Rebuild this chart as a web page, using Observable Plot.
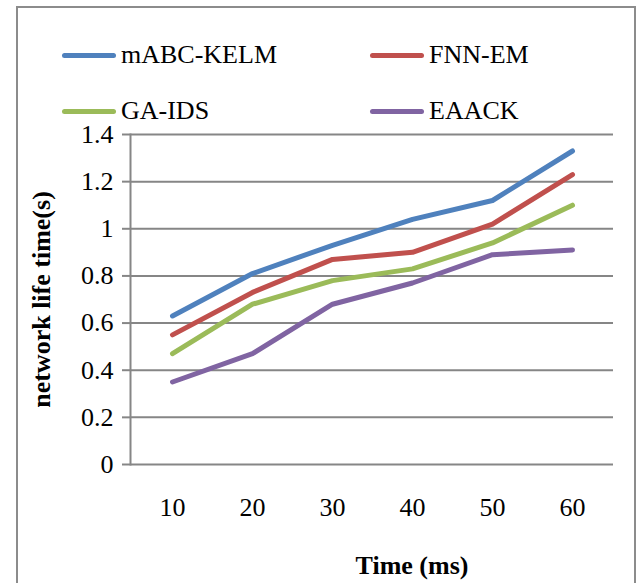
<!DOCTYPE html>
<html>
<head>
<meta charset="utf-8">
<script src="https://cdn.jsdelivr.net/npm/d3@7"></script>
<script src="https://cdn.jsdelivr.net/npm/@observablehq/plot@0.6"></script>
<style>
  html, body { margin: 0; padding: 0; background: #fff; font-family: 'Liberation Serif', serif; }
  #wrap { position: relative; width: 642px; height: 583px; overflow: hidden; font-family: 'Liberation Serif', serif; }
  #border { position: absolute; left: 16px; top: 6px; width: 620px; height: 620px; border: 2px solid #8c8c8c; box-sizing: border-box; }
  #legend { position: absolute; left: 62px; top: 27px; display: grid; grid-template-columns: 308px 260px; grid-auto-rows: 56px; font-size: 26px; color: #000; font-family: 'Liberation Serif', serif; }
  .item { display: flex; align-items: center; }
  .sw { width: 54px; height: 5px; border-radius: 3px; margin-right: 5px; flex: none; }
  #chart { position: absolute; left: 0; top: 0; }
  #chart svg, #chart svg text { font-family: 'Liberation Serif', serif !important; }
</style>
</head>
<body>
<div id="wrap">
  <div id="border"></div>
  <div id="chart"></div>
  <div id="legend"></div>
</div>
<script>
const times = [10, 20, 30, 40, 50, 60];
const series = ["mABC-KELM", "FNN-EM", "GA-IDS", "EAACK"];
const mabcKelm = [0.63, 0.81, 0.93, 1.04, 1.12, 1.33];
const fnnEm = [0.55, 0.73, 0.87, 0.90, 1.02, 1.23];
const gaIds = [0.47, 0.68, 0.78, 0.83, 0.94, 1.10];
const eaack = [0.35, 0.47, 0.68, 0.77, 0.89, 0.91];
const colors = ["#4F81BD", "#C0504D", "#9BBB59", "#8064A2"];
const yTicks = [0, 0.2, 0.4, 0.6, 0.8, 1, 1.2, 1.4];
const xTitle = "Time (ms)";
const yTitle = "network life time(s)";

const values = [mabcKelm, fnnEm, gaIds, eaack];
const data = [];
series.forEach((s, i) => times.forEach((t, j) => data.push({s, t, v: values[i][j]})));

const gray = "#868686";
const chart = Plot.plot({
  width: 642,
  height: 583,
  marginLeft: 130,
  marginRight: 29,
  marginTop: 134,
  marginBottom: 119,
  style: {fontFamily: "'Liberation Serif', serif", fontSize: "26px", color: "#000", background: "transparent"},
  x: {type: "point", domain: times, padding: 0.5},
  y: {domain: [0, 1.4]},
  color: {domain: series, range: colors},
  marks: [
    Plot.gridY(yTicks, {stroke: gray, strokeOpacity: 1, strokeWidth: 2}),
    Plot.axisY(yTicks, {tickSize: 8, tickPadding: 9, stroke: gray, strokeWidth: 2, strokeOpacity: 1, label: null, fontSize: 26,
      tickFormat: d => String(+d.toFixed(1))}),
    Plot.axisX(times, {tickSize: 0, tickPadding: 33, label: null, fontSize: 26}),
    Plot.frame({anchor: "left", stroke: gray, strokeWidth: 2}),
    Plot.lineY(data, {x: "t", y: "v", z: "s", stroke: "s", strokeWidth: 5, strokeLinecap: "round", strokeLinejoin: "round"}),
    Plot.text([yTitle], {frameAnchor: "left", textAnchor: "middle", lineAnchor: "middle", dx: -89, rotate: -90, fontWeight: "bold", fontSize: 26}),
    Plot.text([xTitle], {frameAnchor: "bottom", textAnchor: "middle", lineAnchor: "middle", dx: 40, dy: 101, fontWeight: "bold", fontSize: 26})
  ]
});
document.getElementById("chart").appendChild(chart);

const legend = document.getElementById("legend");
series.forEach((s, i) => {
  const item = document.createElement("div");
  item.className = "item";
  const sw = document.createElement("span");
  sw.className = "sw";
  sw.style.background = colors[i];
  const lab = document.createElement("span");
  lab.textContent = s;
  item.appendChild(sw);
  item.appendChild(lab);
  legend.appendChild(item);
});
</script>
</body>
</html>
